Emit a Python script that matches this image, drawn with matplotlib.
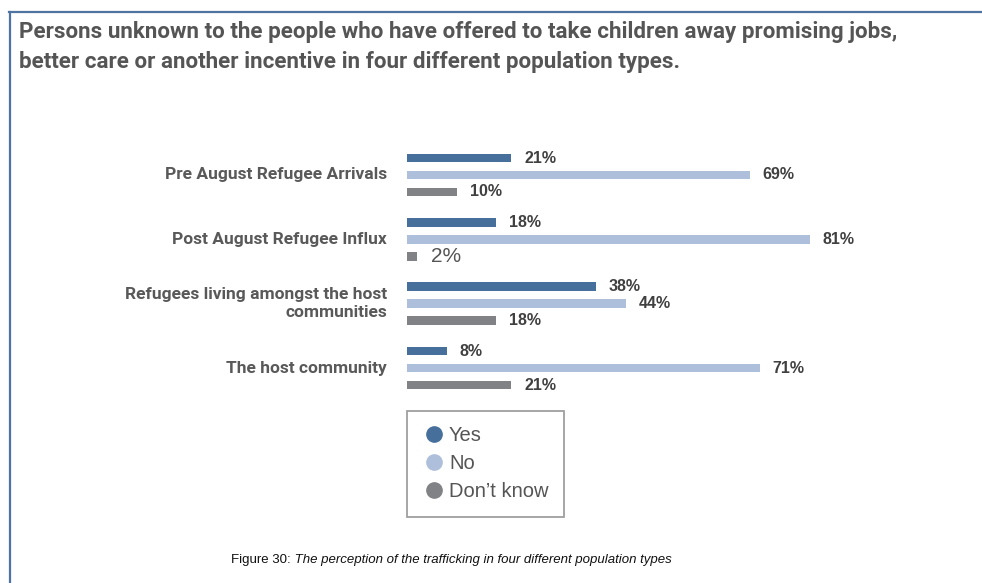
import matplotlib
matplotlib.use("Agg")
import matplotlib.pyplot as plt
import numpy as np
from matplotlib.lines import Line2D

# data
categories = ["Pre August Refugee Arrivals", "Post August Refugee Influx",
              "Refugees living amongst the host\ncommunities", "The host community"]
yes = [21, 18, 38, 8]
no = [69, 81, 44, 71]
dont_know = [10, 2, 18, 21]
series_names = ["Yes", "No", "Don\u2019t know"]
colors = ["#46709b", "#aebfdb", "#808285"]

title = ("Persons unknown to the people who have offered to take children away promising jobs,\n"
         "better care or another incentive in four different population types.")
caption_lead = "Figure 30:"
caption_text = " The perception of the trafficking in four different population types"

W, H = 982, 583
fig = plt.figure(figsize=(W / 100, H / 100), dpi=100)
narrow = ["Roboto", "DejaVu Sans"]
plain = ["Liberation Sans", "DejaVu Sans"]


def fit_width(txt, target_px):
    # scale font so the widest line spans target_px
    fig.canvas.draw()
    w = txt.get_window_extent().width
    txt.set_fontsize(txt.get_fontsize() * target_px / w)


# frame lines (top and left)
fig.add_artist(Line2D([8.5 / W, 1], [1 - 11.5 / H] * 2, color="#4f74a3", lw=1.6))
fig.add_artist(Line2D([9.5 / W] * 2, [0, 1 - 11.5 / H], color="#4f74a3", lw=1.6))

# title
tt = fig.text(19 / W, 1 - 41 / H, title, ha="left", va="baseline", family=narrow,
              fontweight="bold", fontsize=14, color="#555555", linespacing=1.45)
fit_width(tt, 879)
# keep first line baseline at y=41
tt.set_va("top")
tt.set_y(1 - 21 / H)

# bar axes
ax = fig.add_axes([407 / W, 1 - 400.2 / H, 497 / W, 260.6 / H])
ax.set_xlim(0, 100)
ax.set_ylim(3.5, -0.55)
ax.axis("off")

y = np.arange(len(categories))
off = 0.264
bh = 0.135
for k, vals in enumerate([yes, no, dont_know]):
    pos = y + (k - 1) * off
    ax.barh(pos, vals, height=bh, color=colors[k], label=series_names[k])
    for i, v in enumerate(vals):
        if k == 2 and i == 1:
            ax.text(v + 2.8, pos[i], f"{v}%", va="center", ha="left",
                    family=plain, fontsize=15, color="#555555")
        else:
            ax.text(v + 2.6, pos[i], f"{v}%", va="center", ha="left",
                    family=plain, fontsize=11.5, fontweight="bold", color="#404040")

labels = []
for i, c in enumerate(categories):
    labels.append(ax.text(-4.0, y[i], c, ha="right", va="center", family=narrow,
                          fontweight="bold", fontsize=13, color="#595959",
                          multialignment="right", linespacing=1.2))
fit_width(labels[0], 222)
for lab in labels[1:]:
    lab.set_fontsize(labels[0].get_fontsize())

# legend
handles = [Line2D([], [], marker="o", ls="none", markersize=11, color=c) for c in colors]
leg = fig.legend(handles, series_names, loc="upper left",
                 bbox_to_anchor=(406.7 / W, 1 - 410.7 / H),
                 prop={"family": plain, "size": 14.5}, frameon=True, fancybox=False,
                 edgecolor="#888888", handletextpad=0.17, labelspacing=0.44,
                 borderpad=0.78, handlelength=1.15, borderaxespad=0)
leg.get_frame().set_linewidth(1.3)
for t in leg.get_texts():
    t.set_color("#555555")

# caption
t1 = fig.text(231 / W, 1 - 563 / H, caption_lead, ha="left", va="baseline",
              family=plain, fontsize=9.5, color="#111111")
fig.canvas.draw()
bb = t1.get_window_extent()
fig.text(bb.x1 / W, 1 - 563 / H, caption_text, ha="left", va="baseline",
         family=plain, fontsize=9.5, style="italic", color="#111111")

fig.savefig("out.png", dpi=100)
